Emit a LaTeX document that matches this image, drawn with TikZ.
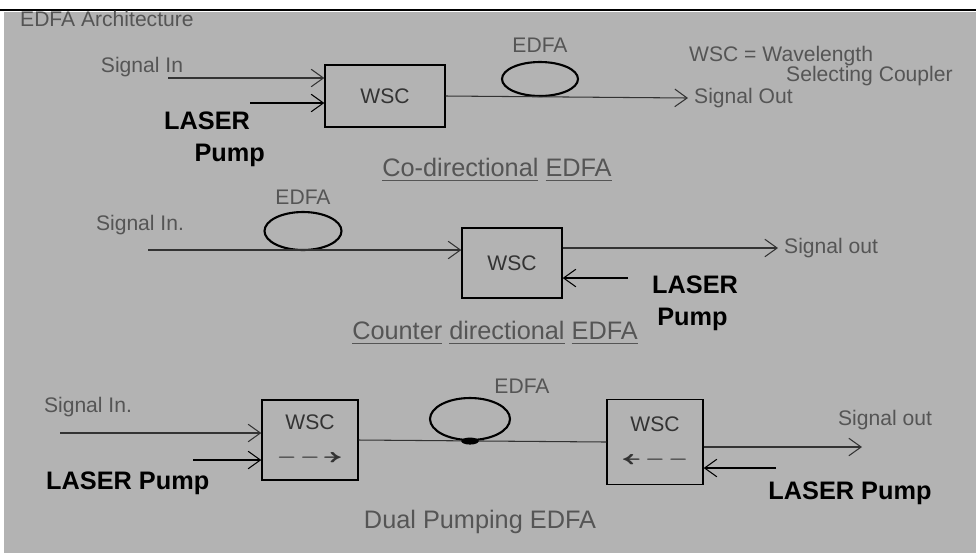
\documentclass[tikz,border=0pt]{standalone}
\usepackage{amsmath,amssymb}
\usepackage{fontspec}
\setmainfont{Liberation Sans}
\usetikzlibrary{arrows.meta, positioning, shapes.geometric}
\definecolor{paper}{HTML}{B3B3B3}
\definecolor{pencil}{HTML}{555555}
\definecolor{lead}{HTML}{333333}
\begin{document}
\begin{tikzpicture}[x=0.02cm, y=-0.02cm,
    block/.style={draw, thick, rectangle, align=center, font=\large, text=lead, minimum width=1.92cm, minimum height=1.6cm},
    amp/.style={draw, very thick, ellipse, minimum width=1.52cm, minimum height=0.68cm},
    lbl/.style={font=\large, text=pencil},
    bold/.style={font=\Large\bfseries, align=left},
    capt/.style={font=\Large, text=pencil},
    arrow/.style={-{Straight Barb[length=7pt, width=10pt]}, semithick, draw=lead}
]
\useasboundingbox (0,0) rectangle (976,559);
\fill[paper] (4,12) rectangle (976,553);
\draw[line width=1.5pt] (0,10) -- (976,10);
\node[lbl, anchor=west] (title) at (14,19) {EDFA Architecture};
% 1. Co-directional
\node[block, minimum width=2.4cm, minimum height=1.24cm] (wsc1) at (385,96) {WSC};
\node[lbl] (in1) at (142,67) {Signal In};
\coordinate (sin1) at (168,78);
\coordinate (pmp1) at (250,103);
\node[bold, anchor=north west] (las1) at (158,106) {LASER\\\hspace{1.2em}Pump};
\node[amp] (amp1) at (540,79) {};
\node[lbl, above=1pt of amp1] (lab1) {EDFA};
\node[lbl, anchor=west] (out1) at (688,98) {Signal Out};
\node[lbl, anchor=west] (key1) at (683,56) {WSC = Wavelength};
\node[lbl, anchor=west] (key2) at (780,76) {Selecting Coupler};
\node[capt] (cap1) at (497,170) {\underline{Co-directional} \underline{EDFA}};
% 2. Counter directional
\node[block, minimum width=2cm, minimum height=1.4cm] (wsc2) at (512,263) {WSC};
\node[lbl] (in2) at (140,225) {Signal In.};
\coordinate (sin2) at (148,250);
\node[amp, minimum width=1.54cm, minimum height=0.76cm] (amp2) at (303,231) {};
\node[lbl, above=0pt of amp2] (lab2) {EDFA};
\node[lbl, anchor=west] (out2) at (778,248) {Signal out};
\coordinate (pmp2) at (628,278);
\node[bold, anchor=north west] (las2) at (646,270) {LASER\\\hspace{0.2em}Pump};
\node[capt] (cap2) at (495,333) {\underline{Counter} \underline{directional} \underline{EDFA}};
% 3. Dual pumping
\node[block] (wsc3) at (310,440) {WSC\\[6pt]\scalebox{2.2}[1.3]{$\dashrightarrow$}};
\node[lbl] (in3) at (88,407) {Signal In.};
\coordinate (sin3) at (60,433);
\coordinate (pmp3) at (193,460);
\node[bold, anchor=west] (las3) at (40,483) {LASER Pump};
\node[amp, minimum width=1.6cm, minimum height=0.84cm] (amp3) at (470,419) {};
\node[lbl] (lab3) at (522,386) {EDFA};
\node[block, minimum height=1.7cm] (wsc4) at (655,442) {WSC\\[6pt]\scalebox{2.2}[1.3]{$\dashleftarrow$}};
\node[lbl] (out3) at (885,420) {Signal out};
\coordinate (sout3) at (862,447);
\coordinate (pmp4) at (776,468);
\node[bold] (las4) at (850,493) {LASER Pump};
\node[capt] (cap3) at (480,522) {Dual Pumping EDFA};
% --- Arrows / Connections ---
\draw[arrow] (sin1) -- (sin1 -| wsc1.west);
\draw[arrow, draw=black] (pmp1) -- (pmp1 -| wsc1.west);
\draw[arrow] (wsc1.east) -- (out1.west);
\draw[arrow] (sin2) -- (sin2 -| wsc2.west);
\draw[arrow] (out2.west -| wsc2.east) -- (out2.west);
\draw[arrow, draw=black] (pmp2) -- (pmp2 -| wsc2.east);
\draw[arrow] (sin3) -- (sin3 -| wsc3.west);
\draw[arrow, draw=black] (pmp3) -- (pmp3 -| wsc3.west);
\draw[semithick, lead] (wsc3.east) -- (wsc4.west);
\fill (amp3.south) ellipse (5pt and 2pt);
\draw[arrow] (sout3 -| wsc4.east) -- (sout3);
\draw[arrow, draw=black] (pmp4) -- (pmp4 -| wsc4.east);
\end{tikzpicture}
\end{document}
